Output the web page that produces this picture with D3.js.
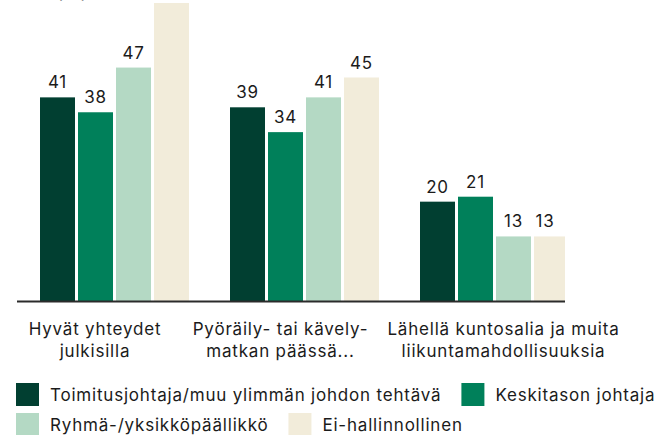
<!DOCTYPE html>
<html>
<head>
<meta charset="utf-8">
<script src="https://cdn.jsdelivr.net/npm/d3@7"></script>
<style>
  html, body { margin: 0; padding: 0; background: #fff; }
  svg { display: block; }
  text { font-family: Inter, "Open Sans", sans-serif; fill: #1b1b1b; letter-spacing: 0.8px; }
</style>
</head>
<body>
<svg id="chart" width="670" height="435"></svg>
<script>
// Categories (line breaks marked with \n)
const categories = [
  "Hyvät yhteydet\njulkisilla",
  "Pyöräily- tai kävely-\nmatkan päässä...",
  "Lähellä kuntosalia ja muita\nliikuntamahdollisuuksia"
];

// Respondent groups
const seriesNames = [
  "Toimitusjohtaja/muu ylimmän johdon tehtävä",
  "Keskitason johtaja",
  "Ryhmä-/yksikköpäällikkö",
  "Ei-hallinnollinen"
];

// Shares (%) per category for each group
const topManagement = [41, 39, 20];
const middleManagement = [38, 34, 21];
const teamLeads = [47, 41, 13];
const nonManagerial = [60, 45, 13];

const seriesValues = [topManagement, middleManagement, teamLeads, nonManagerial];
const colors = ["#013f31", "#00805a", "#b4d9c4", "#f2ecda"];

const W = 670, H = 435;
const plot = { left: 17, right: 565, top: 3, bottom: 301 };
const fontSize = 17;

const svg = d3.select("#chart");

const x0 = d3.scaleBand()
  .domain(categories)
  .range([19.5, 589.5]);

const x1 = d3.scaleBand()
  .domain(seriesNames)
  .range([0, x0.bandwidth()])
  .paddingInner(3 / 38)
  .paddingOuter(0.5395);

const allValues = seriesValues.flat();
const y = d3.scaleLinear()
  .domain([0, d3.max(allValues)])
  .range([plot.bottom, plot.top]);

// Axis title, mostly above the visible area
svg.append("text")
  .attr("x", 88)
  .attr("y", -2)
  .attr("text-anchor", "end")
  .style("font-size", fontSize + "px")
  .text("Osuus (%)");

svg.append("defs").append("clipPath")
  .attr("id", "plotClip")
  .append("rect")
  .attr("x", 0).attr("y", 0)
  .attr("width", plot.right).attr("height", H);

const rows = categories.map((c, i) => ({
  category: c,
  items: seriesNames.map((s, j) => ({ series: s, value: seriesValues[j][i], color: colors[j] }))
}));

const groups = svg.append("g")
  .attr("clip-path", "url(#plotClip)")
  .selectAll("g.group")
  .data(rows)
  .join("g")
  .attr("class", "group")
  .attr("transform", d => `translate(${x0(d.category)},0)`);

groups.selectAll("rect")
  .data(d => d.items)
  .join("rect")
  .attr("x", d => x1(d.series))
  .attr("width", x1.bandwidth())
  .attr("y", d => y(d.value))
  .attr("height", d => y(0) - y(d.value))
  .attr("fill", d => d.color);

// Value labels, kept inside the plot area on the right
svg.append("g")
  .selectAll("g")
  .data(rows)
  .join("g")
  .each(function (row) {
    d3.select(this).selectAll("text")
      .data(row.items)
      .join("text")
      .attr("x", d => Math.min(x0(row.category) + x1(d.series) + x1.bandwidth() / 2, plot.right - 20))
      .attr("y", d => y(d.value) - 9)
      .attr("text-anchor", "middle")
      .style("font-size", fontSize + "px")
      .text(d => d.value);
  });

// Baseline
svg.append("line")
  .attr("x1", plot.left).attr("x2", plot.right)
  .attr("y1", plot.bottom + 0.5).attr("y2", plot.bottom + 0.5)
  .attr("stroke", "#2b2b2b")
  .attr("stroke-width", 2);

// Category labels
const labelNudge = [-19.5, -24, 9];
const catLabels = svg.append("g")
  .selectAll("text")
  .data(categories)
  .join("text")
  .attr("x", (d, i) => x0(d) + x0.bandwidth() / 2 + labelNudge[i])
  .attr("y", 335)
  .attr("text-anchor", "middle")
  .style("font-size", fontSize + "px");

catLabels.selectAll("tspan")
  .data(d => d.split("\n"))
  .join("tspan")
  .attr("x", function () { return d3.select(this.parentNode).attr("x"); })
  .attr("dy", (d, i) => i === 0 ? 0 : 21.5)
  .text(d => d);

// Legend with flowing layout
const legend = svg.append("g");
const sw = 23, gapText = 11, gapItem = 20, rowH = 30;
let lx = 16, ly = 383;
seriesNames.forEach((name, i) => {
  const item = legend.append("g");
  const t = item.append("text")
    .attr("x", sw + gapText)
    .attr("y", 18)
    .style("font-size", fontSize + "px")
    .text(name);
  const tw = t.node().getComputedTextLength();
  const itemW = sw + gapText + tw;
  if (lx + itemW > W - 5 && lx > 16) { lx = 16; ly += rowH; }
  item.attr("transform", `translate(${lx},${ly})`);
  item.insert("rect", "text")
    .attr("width", sw).attr("height", sw)
    .attr("fill", colors[i]);
  lx += itemW + gapItem;
});
</script>
</body>
</html>
